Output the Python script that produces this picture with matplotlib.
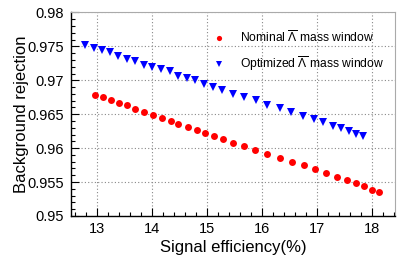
import matplotlib.pyplot as plt
from matplotlib.ticker import MultipleLocator

plt.rcParams['font.family'] = ['Liberation Sans', 'DejaVu Sans']
plt.rcParams['mathtext.fontset'] = 'custom'
plt.rcParams['mathtext.rm'] = 'Liberation Sans'
plt.rcParams['mathtext.it'] = 'Liberation Sans'

# Nominal anti-Lambda mass window
nominal_eff = [12.96, 13.11, 13.26, 13.41, 13.55, 13.70, 13.86, 14.02, 14.18, 14.34,
               14.48, 14.66, 14.82, 14.97, 15.12, 15.30, 15.47, 15.67, 15.88, 16.10,
               16.32, 16.54, 16.76, 16.97, 17.17, 17.36, 17.55, 17.70, 17.85, 18.00, 18.13]
nominal_rej = [0.9678, 0.9675, 0.9671, 0.9666, 0.9663, 0.9658, 0.9654, 0.9649, 0.9645, 0.9640,
               0.9636, 0.9631, 0.9627, 0.9623, 0.9618, 0.9613, 0.9608, 0.9603, 0.9598, 0.9592,
               0.9586, 0.9579, 0.9575, 0.9569, 0.9564, 0.9558, 0.9553, 0.9549, 0.9544, 0.9538, 0.9536]

# Optimized anti-Lambda mass window
optimized_eff = [12.78, 12.94, 13.09, 13.23, 13.39, 13.55, 13.70, 13.86, 14.01, 14.17,
                 14.32, 14.48, 14.64, 14.79, 14.94, 15.11, 15.28, 15.47, 15.67, 15.90,
                 16.10, 16.32, 16.53, 16.74, 16.94, 17.11, 17.29, 17.44, 17.58, 17.70, 17.84]
optimized_rej = [0.9752, 0.9748, 0.9744, 0.9741, 0.9736, 0.9732, 0.9728, 0.9723, 0.9720, 0.9716,
                 0.9713, 0.9707, 0.9703, 0.9700, 0.9695, 0.9690, 0.9685, 0.9680, 0.9675, 0.9671,
                 0.9664, 0.9659, 0.9653, 0.9648, 0.9643, 0.9638, 0.9633, 0.9629, 0.9625, 0.9621, 0.9618]

fig = plt.figure(figsize=(4.15, 2.71), dpi=100)
ax = fig.add_axes([0.171, 0.203, 0.780, 0.751])

ax.plot(nominal_eff, nominal_rej, 'o', color='#ff0000', markersize=5, markeredgewidth=0,
        label=r'Nominal $\overline{\Lambda}$ mass window')
ax.plot(optimized_eff, optimized_rej, 'v', color='#0000ff', markersize=5.5, markeredgewidth=0,
        label=r'Optimized $\overline{\Lambda}$ mass window')

ax.set_xlim(12.53, 18.41)
ax.set_ylim(0.95, 0.98)
ax.xaxis.set_major_locator(MultipleLocator(1))
ax.xaxis.set_minor_locator(MultipleLocator(0.2))
ax.yaxis.set_minor_locator(MultipleLocator(0.001))
ax.set_yticks([0.95, 0.955, 0.96, 0.965, 0.97, 0.975, 0.98])
ax.set_yticklabels(['0.95', '0.955', '0.96', '0.965', '0.97', '0.975', '0.98'])

ax.tick_params(which='both', direction='in', top=False, right=False, labelsize=10.5)
ax.tick_params(axis='x', pad=4)
ax.tick_params(axis='y', pad=5)
ax.tick_params(which='major', length=6, width=0.8)
ax.tick_params(which='minor', length=3, width=0.8)
ax.grid(True, which='major', linestyle=(0, (1, 2)), color='#888888', linewidth=0.8)

for side in ['top', 'right']:
    ax.spines[side].set_color('#aaaaaa')
    ax.spines[side].set_linewidth(0.8)
for side in ['left', 'bottom']:
    ax.spines[side].set_linewidth(1.0)

ax.set_xlabel('Signal efficiency(%)', fontsize=12, labelpad=3)
ax.set_ylabel('Background rejection', fontsize=12, labelpad=-1)

ax.legend(loc='upper left', bbox_to_anchor=(0.40, 0.97), frameon=False, fontsize=8.7,
          markerscale=0.75, handlelength=1.2, handletextpad=1.2, labelspacing=0.75)

fig.savefig('out.png', dpi=100)
